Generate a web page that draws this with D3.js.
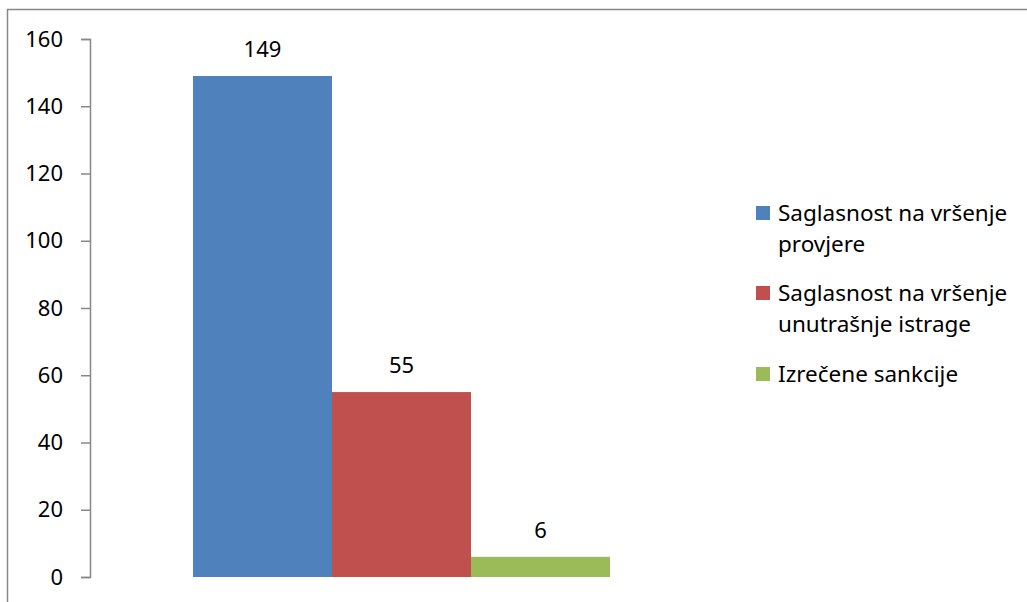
<!DOCTYPE html>
<html>
<head>
<meta charset="utf-8">
<script src="https://cdn.jsdelivr.net/npm/d3@7"></script>
<style>
  body { margin: 0; background: #fff; }
  svg { display: block; font-family: "Noto Sans", "Open Sans", sans-serif; }
</style>
</head>
<body>
<svg id="chart" width="1027" height="602"></svg>
<script>
// categories and values
const categories = ['Saglasnost na vršenje provjere', 'Saglasnost na vršenje unutrašnje istrage', 'Izrečene sankcije']
const values = [149, 55, 6]
const colors = ['#4F81BD', '#C0504D', '#9BBB59']
const legendLines = [['Saglasnost na vršenje', 'provjere'], ['Saglasnost na vršenje', 'unutrašnje istrage'], ['Izrečene sankcije']]
const yTicks = [0, 20, 40, 60, 80, 100, 120, 140, 160]

const svg = d3.select('#chart')

// outer chart frame (top and left edges visible)
svg.append('path')
  .attr('d', 'M7.5,602 V9.5 H1027')
  .attr('fill', 'none')
  .attr('stroke', '#888')
  .attr('stroke-width', 1.5)

const plotTop = 39
const plotBottom = 577
const axisX = 90

const y = d3.scaleLinear().domain([0, 160]).range([plotBottom, plotTop])
const x = d3.scaleBand().domain(categories).range([193, 610]).padding(0)

// y axis
const yAxis = d3.axisLeft(y).tickValues(yTicks).tickSize(9).tickPadding(18)
const ax = svg.append('g')
  .attr('transform', 'translate(' + axisX + ',0)')
  .call(yAxis)
ax.select('.domain').attr('stroke', '#888').attr('stroke-width', 1.5)
ax.selectAll('.tick line').attr('stroke', '#888').attr('stroke-width', 1.5)
ax.selectAll('.tick text')
  .attr('fill', '#000')
  .style('font-size', '22px')
  .style('font-family', '"Noto Sans", sans-serif')

// bars
svg.selectAll('rect.bar')
  .data(values)
  .enter()
  .append('rect')
  .attr('class', 'bar')
  .attr('x', function (d, i) { return x(categories[i]) })
  .attr('width', x.bandwidth())
  .attr('y', function (d) { return y(d) })
  .attr('height', function (d) { return y(0) - y(d) })
  .attr('fill', function (d, i) { return colors[i] })

// value labels
svg.selectAll('text.val')
  .data(values)
  .enter()
  .append('text')
  .attr('class', 'val')
  .attr('x', function (d, i) { return x(categories[i]) + x.bandwidth() / 2 })
  .attr('y', function (d) { return y(d) - 19 })
  .attr('text-anchor', 'middle')
  .style('font-size', '22px')
  .text(function (d) { return d })

// legend
const legendTops = [213, 293, 374]
const legend = svg.selectAll('g.leg')
  .data(legendLines)
  .enter()
  .append('g')
  .attr('class', 'leg')
  .attr('transform', function (d, i) { return 'translate(756,' + legendTops[i] + ')' })

legend.append('rect')
  .attr('x', 0)
  .attr('y', -7)
  .attr('width', 14)
  .attr('height', 14)
  .attr('fill', function (d, i) { return colors[i] })

legend.each(function (lines) {
  const t = d3.select(this).append('text')
    .attr('x', 22)
    .attr('y', 0)
    .style('font-size', '22.5px')
  lines.forEach(function (line, j) {
    t.append('tspan')
      .attr('x', 22)
      .attr('dy', j === 0 ? '0.35em' : 31)
      .text(line)
  })
})
</script>
</body>
</html>
